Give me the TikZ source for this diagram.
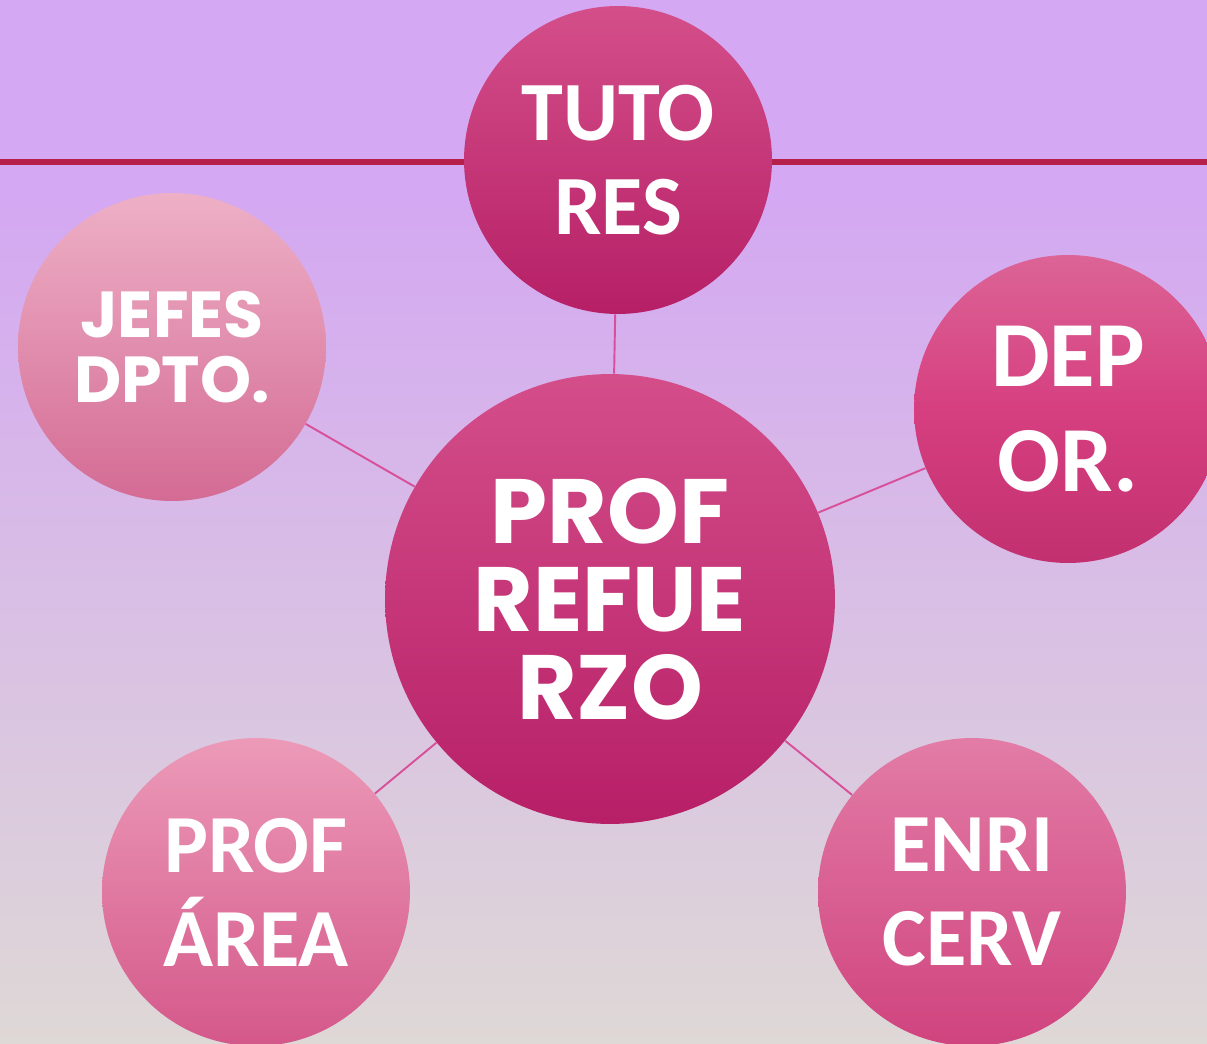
\documentclass[tikz,border=0pt]{standalone}
\usepackage{fontspec}
\newfontfamily\calfont{Carlito}
\newfontfamily\geofont{Poppins}
\definecolor{bgtop}{HTML}{D4A8F2}
\definecolor{bgbot}{HTML}{DED8D6}
\definecolor{barred}{HTML}{B51F4A}
\definecolor{lnkpink}{HTML}{D8509A}
\definecolor{tutT}{HTML}{D44F8A}\definecolor{tutB}{HTML}{B61F66}
\definecolor{jefT}{HTML}{EEB0C6}\definecolor{jefB}{HTML}{D46B94}
\definecolor{depT}{HTML}{DC6496}\definecolor{depM}{HTML}{D63F80}\definecolor{depB}{HTML}{C2306F}
\definecolor{prfT}{HTML}{D44E8A}\definecolor{prfB}{HTML}{B71F67}
\definecolor{areT}{HTML}{EC9AB8}\definecolor{areB}{HTML}{D4588A}
\definecolor{enrT}{HTML}{E27CA6}\definecolor{enrB}{HTML}{D0437E}
\tikzset{bub/.append style={circle, minimum size=6.16cm, inner sep=0pt, text=white, align=center, font={\calfont\bfseries\fontsize{48}{53.5}\selectfont}}}
\tikzset{geo/.append style={font={\geofont\bfseries\fontsize{52}{50}\selectfont}}}
\tikzset{lnk/.append style={draw=lnkpink, line width=1.1pt}}

\begin{document}
\begin{tikzpicture}[x=0.02cm,y=-0.02cm]
                \useasboundingbox (0,0) rectangle (1207,1044);
                \clip (0,0) rectangle (1207,1044);
                % background
                \fill[bgtop] (0,0) rectangle (1207,200);
                \shade[top color=bgtop, bottom color=bgbot] (0,200) rectangle (1207,1044);
                \coordinate (bw) at (0,162);
                \coordinate (be) at (1207,162);
                \draw[barred, line width=3.2pt] (bw) -- (be);
                % circles
                \node[bub,top color=tutT,bottom color=tutB] (tut) at (618,160) {TUTO\\RES};
                \node[bub,font={\geofont\bfseries\fontsize{37}{37}\selectfont},top color=jefT,bottom color=jefB] (jef) at (172,347) {JEFES\\DPTO.};
                \node[bub,font={\calfont\bfseries\fontsize{53}{60}\selectfont},top color=depT,bottom color=depB,middle color=depM] (dep) at (1068,409) {DEP\\OR.};
                \node[bub,geo,minimum size=9cm,top color=prfT,bottom color=prfB] (prf) at (610,599) {PROF\\REFUE\\RZO};
                \node[bub,font={\calfont\bfseries\fontsize{47}{53.5}\selectfont},top color=areT,bottom color=areB] (are) at (256,892) {PROF\\ÁREA};
                \node[bub,font={\calfont\bfseries\fontsize{47}{53.5}\selectfont},top color=enrT,bottom color=enrB] (enr) at (972,892) {ENRI\\CERV};
                \path (prf) edge[lnk] (tut) edge[lnk] (jef) edge[lnk] (dep) edge[lnk] (are) edge[lnk] (enr);
\end{tikzpicture}
\end{document}
